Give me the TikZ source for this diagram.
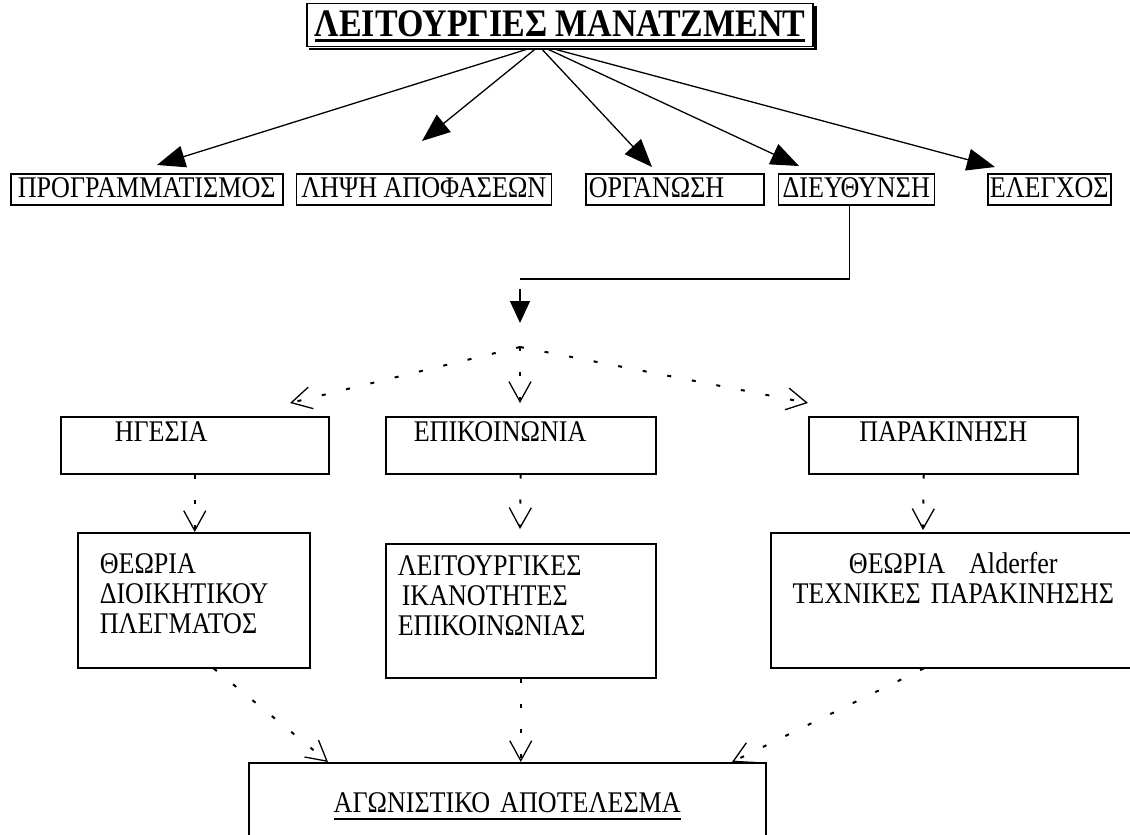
\documentclass[tikz,border=0pt]{standalone}
\usepackage{fontspec}
\setmainfont{Liberation Serif}[FakeStretch=0.87]
\usetikzlibrary{positioning,arrows.meta}

\newcommand{\ulbar}[3]{\setbox0=\hbox{#3}\rlap{\rule[-#1]{\wd0}{#2}}\box0}

\begin{document}
\begin{tikzpicture}[
  x=1pt, y=-1pt,
  >=Latex,
  every node/.style={inner sep=0pt, font=\fontsize{30}{30}\selectfont},
  head/.style={draw, line width=1.5pt, font=\fontsize{39}{40}\selectfont\bfseries,
    inner xsep=8pt, inner ysep=2pt, text height=31pt, text depth=8pt},
  fbox/.style={draw, line width=1.5pt, inner xsep=2pt, inner ysep=2pt,
    text height=22pt, text depth=5pt},
  rbox/.style={draw, line width=1.5pt, anchor=north west, align=left,
    text height=25pt, text depth=32pt},
  tbox/.style={draw, line width=1.5pt, anchor=north west, align=left},
  fat/.style={line width=1.3pt, -{Triangle[length=28pt, width=22pt]}},
  dots/.style={line width=2pt, dash pattern=on 4pt off 21pt,
    -{Straight Barb[length=20pt, width=22pt, line width=1.3pt]}}
]
  \useasboundingbox (0,0) rectangle (1130,835);
  \fill[white] (0,0) rectangle (1130,835);

  % title with shadow
  \node[head] (title) at (560,25) {\ulbar{5pt}{3pt}{ΛΕΙΤΟΥΡΓΙΕΣ ΜΑΝΑΤΖΜΕΝΤ}};
  \draw[line width=2.5pt] ([xshift=1.5pt,yshift=-3pt]title.north east)
    -- ([xshift=1.5pt,yshift=-1.5pt]title.south east)
    -- ([xshift=3pt,yshift=-1.5pt]title.south west);

  % first row
  \node[fbox, anchor=north west, minimum width=272pt] (prog) at (10,173) {ΠΡΟΓΡΑΜΜΑΤΙΣΜΟΣ};
  \node[fbox, right=12pt of prog, minimum width=255pt] (apof) {ΛΗΨΗ ΑΠΟΦΑΣΕΩΝ};
  \node[fbox, right=33pt of apof, text width=172pt, align=left, inner xsep=3pt] (organ) {ΟΡΓΑΝΩΣΗ};
  \node[fbox, right=13pt of organ, minimum width=156pt] (dief) {ΔΙΕΥΘΥΝΣΗ};
  \node[fbox, right=52pt of dief, minimum width=123pt] (elegx) {ΕΛΕΓΧΟΣ};

  \coordinate (p1) at (157,165);
  \coordinate (p2) at (422,141);
  \coordinate (p3) at (652,167);
  \coordinate (p4) at (799,166);
  \coordinate (p5) at (995,167);
  \draw[fat] ([xshift=-33pt,yshift=-2pt]title.south) -- (p1);
  \draw[fat] ([xshift=-25pt,yshift=-2pt]title.south) -- (p2);
  \draw[fat] ([xshift=-18pt,yshift=-2pt]title.south) -- (p3);
  \draw[fat] ([xshift=-12pt,yshift=-2pt]title.south) -- (p4);
  \draw[fat] ([xshift=-5pt,yshift=-2pt]title.south) -- (p5);

  % from ΔΙΕΥΘΥΝΣΗ down
  \coordinate (bend) at (520,279);
  \coordinate (droptop) at (520,289);
  \coordinate (split) at (520,347);
  \draw[line width=1.3pt] ([xshift=-6.5pt]dief.south) |- (bend);
  \draw[line width=1.3pt, -{Triangle[length=22pt, width=20pt]}] (droptop) -- ([yshift=24pt]split);

  % second row
  \node[rbox, inner xsep=54pt, text width=160pt] (hgesia) at (60,416) {ΗΓΕΣΙΑ};
  \node[rbox, inner xsep=28pt, text width=214pt] (epik) at (385,416) {ΕΠΙΚΟΙΝΩΝΙΑ};
  \node[rbox, inner xsep=10pt, text width=249pt, align=center] (parak) at (808,416) {ΠΑΡΑΚΙΝΗΣΗ};

  \coordinate (q1) at (290,403);
  \coordinate (q2) at (520,403);
  \coordinate (q3) at (808,403);
  \draw[dots] (split) -- (q1);
  \draw[dots] (split) -- (q2);
  \draw[dots] (split) -- (q3);

  % third row
  \node[tbox, inner xsep=22pt, text width=188pt, text height=41pt, text depth=94pt] (plegma) at (77,532)
    {ΘΕΩΡΙΑ\\ΔΙΟΙΚΗΤΙΚΟΥ\\ΠΛΕΓΜΑΤΟΣ};
  \node[tbox, inner xsep=12pt, text width=246pt, text height=32pt, text depth=102pt] (ikan) at (385,543)
    {ΛΕΙΤΟΥΡΓΙΚΕΣ\\\hspace*{4pt}ΙΚΑΝΟΤΗΤΕΣ\\ΕΠΙΚΟΙΝΩΝΙΑΣ};
  \node[tbox, align=center, text width=365pt, text height=41pt, text depth=94pt] (alder) at (770,532)
    {ΘΕΩΡΙΑ\hspace{24pt}Alderfer\\ΤΕΧΝΙΚΕΣ ΠΑΡΑΚΙΝΗΣΗΣ};

  \coordinate (r2) at (520,529);
  \coordinate (r3) at (923,530);
  \draw[dots] (hgesia.south) -- (hgesia.south |- plegma.north);
  \draw[dots] (epik.south) -- (r2);
  \draw[dots] ([xshift=-19.5pt]parak.south) -- (r3);

  % result
  \node[tbox, align=center, text width=517pt, text height=50pt, text depth=60pt] (agon) at (248,762)
    {\ulbar{7pt}{2pt}{ΑΓΩΝΙΣΤΙΚΟ ΑΠΟΤΕΛΕΣΜΑ}};

  \coordinate (s1) at (328,762);
  \coordinate (s3) at (732,762);
  \draw[dots] ([xshift=20pt]plegma.south) -- (s1);
  \draw[dots] (ikan.south) -- (ikan.south |- agon.north);
  \draw[dots] ([xshift=-29.5pt]alder.south) -- (s3);
\end{tikzpicture}
\end{document}
